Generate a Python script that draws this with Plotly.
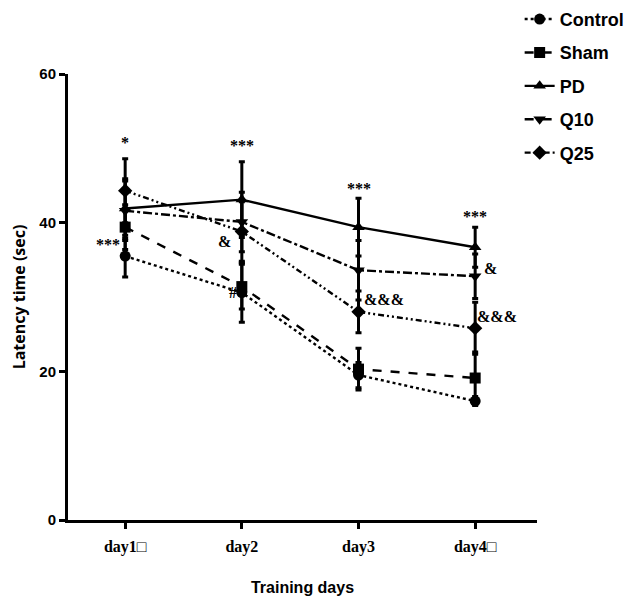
import plotly.graph_objects as go

days = ["day1\u25a1", "day2", "day3", "day4\u25a1"]
x_pos = [0, 1, 2, 3]

control = [35.5, 30.6, 19.5, 16.0]
control_err = [2.8, 4.0, 1.7, 0.6]
sham = [39.4, 31.4, 20.3, 19.1]
sham_err = [3.0, 3.0, 2.8, 3.5]
pd_vals = [41.9, 43.1, 39.4, 36.7]
pd_err = [4.0, 5.1, 3.9, 2.7]
q10 = [41.6, 40.1, 33.6, 32.8]
q10_err = [4.0, 4.0, 4.0, 3.0]
q25 = [44.3, 38.8, 28.0, 25.8]
q25_err = [4.3, 4.0, 2.8, 3.5]

series = [
    ("Control", control, control_err, "circle", "dot"),
    ("Sham", sham, sham_err, "square", "dash"),
    ("PD", pd_vals, pd_err, "triangle-up", "solid"),
    ("Q10", q10, q10_err, "triangle-down", "dashdot"),
    ("Q25", q25, q25_err, "diamond", "6px,3px,2px,3px,2px,3px"),
]

# significance marks: (text, x, y)
marks = [
    ("*", 0.0, 50.8),
    ("***", -0.15, 37.1),
    ("***", 1.0, 50.4),
    ("&", 0.855, 37.4),
    ("#", 0.92, 30.6),
    ("***", 2.0, 44.6),
    ("&&&", 2.22, 29.6),
    ("***", 3.0, 40.8),
    ("&", 3.13, 33.8),
    ("&&&", 3.19, 27.4),
]

fig = go.Figure()
for name, vals, errs, sym, dash in series:
    fig.add_trace(go.Scatter(
        x=x_pos, y=vals, name="<b>" + name + "</b>", mode="lines+markers",
        legendgroup=name,
        line=dict(color="black", width=2.4, dash=dash),
        marker=dict(symbol=sym, size=11, color="black"),
        error_y=dict(type="data", array=errs, visible=True, color="black",
                     thickness=3, width=3),
    ))

for text, xx, yy in marks:
    fig.add_annotation(x=xx, y=yy, text="<b>" + text + "</b>", showarrow=False,
                       font=dict(family="Liberation Serif", size=16, color="black"))

fig.update_layout(
    width=628, height=594,
    margin=dict(l=60, r=99, t=66, b=82, autoexpand=False),
    plot_bgcolor="white", paper_bgcolor="white",
    legend=dict(x=0.963, y=1.164, xanchor="left", yanchor="top",
                font=dict(family="Liberation Sans", size=18, color="black"),
                itemwidth=30, tracegroupgap=7, bgcolor="rgba(0,0,0,0)"),
    xaxis=dict(
        range=[-0.49, 3.53], tickvals=x_pos, ticktext=["<b>" + d + "</b>" for d in days],
        showline=True, linecolor="black", linewidth=3,
        ticks="outside", ticklen=6, tickwidth=3, tickcolor="black",
        showgrid=False, zeroline=False, ticklabelstandoff=4,
        tickfont=dict(family="Liberation Serif", size=16, color="black"),
        title=dict(text="<b>Training days</b>", standoff=27,
                   font=dict(family="Liberation Sans", size=16, color="black")),
    ),
    yaxis=dict(
        range=[0, 60], tickvals=[0, 20, 40, 60], ticktext=["<b>0</b>", "<b>20</b>", "<b>40</b>", "<b>60</b>"],
        showline=True, linecolor="black", linewidth=3,
        ticks="outside", ticklen=6, tickwidth=3, tickcolor="black",
        showgrid=False, zeroline=False,
        tickfont=dict(family="Liberation Sans Narrow, Liberation Sans", size=15, color="black"),
        title=dict(text="<b>Latency time (sec)</b>", standoff=16,
                   font=dict(family="Open Sans", size=16, color="black")),
    ),
)
fig.write_html("out.html")
